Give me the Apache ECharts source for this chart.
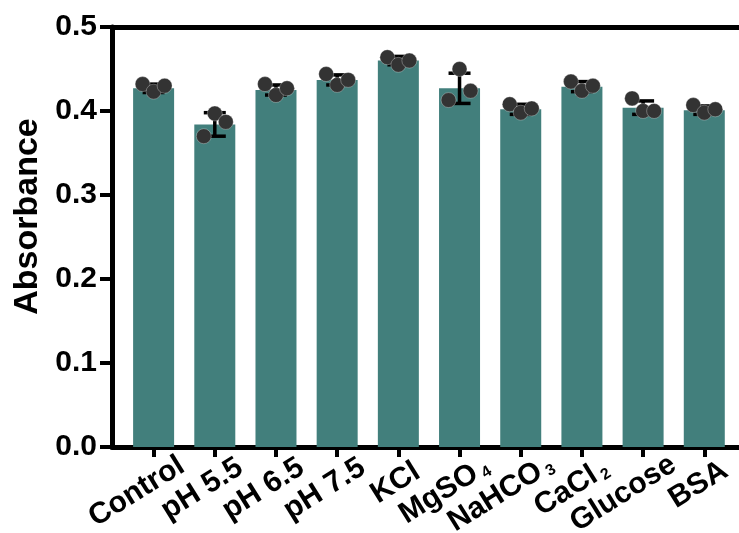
<!DOCTYPE html>
<html>
<head>
<meta charset="utf-8">
<script src="https://cdn.jsdelivr.net/npm/echarts@6/dist/echarts.min.js"></script>
<style>
  html, body { margin: 0; padding: 0; background: #fff; }
  #chart { width: 739px; height: 533px; }
</style>
</head>
<body>
<div id="chart"></div>
<script>
// Treatment groups (trailing digit of a formula is drawn as a subscript)
const categories = ['Control', 'pH 5.5', 'pH 6.5', 'pH 7.5', 'KCl', 'MgSO4', 'NaHCO3', 'CaCl2', 'Glucose', 'BSA'];

// Mean absorbance and standard deviation per group
const meanAbs = [0.427, 0.384, 0.425, 0.437, 0.460, 0.427, 0.402, 0.429, 0.404, 0.401];
const sdAbs   = [0.005, 0.014, 0.006, 0.006, 0.005, 0.018, 0.006, 0.006, 0.008, 0.005];

// Individual replicates (left, middle, right dot of each group)
const rep1 = [0.432, 0.370, 0.432, 0.444, 0.464, 0.413, 0.408, 0.435, 0.415, 0.407];
const rep2 = [0.423, 0.397, 0.419, 0.431, 0.455, 0.450, 0.398, 0.424, 0.400, 0.398];
const rep3 = [0.430, 0.387, 0.427, 0.437, 0.460, 0.424, 0.403, 0.430, 0.400, 0.402];

// Y axis ticks
const yTicks = [0, 0.1, 0.2, 0.3, 0.4, 0.5];

const FONT = '"Liberation Sans", Arial, Helvetica, sans-serif';
const BAR_COLOR = '#427f7c';
const DOT_COLOR = '#333333';
const LABEL_SIZE = 30;
const SUB_SIZE = 16;
const SUB_GAP = 4;
const labelShift = 0.5;    // anchor of the rotated category labels, right of the tick
const labelReach = 24;     // longest labels hang this far past their anchor point

const idx = categories.map((c, i) => i);

// Split a formula like "MgSO4" into base text and subscript digit
function splitFormula(name) {
  const m = name.match(/^(.*[A-Za-z])(\d)$/);
  return m ? [m[1], m[2]] : [name, ''];
}

// Measure label widths so each label is pinned 30% in from its right end
const measureCtx = document.createElement('canvas').getContext('2d');
function textWidth(str, size) {
  measureCtx.font = 'bold ' + size + 'px ' + FONT;
  return measureCtx.measureText(str).width;
}
const richStyles = {
  t: { fontFamily: FONT, fontWeight: 700, fontSize: LABEL_SIZE, color: '#000' },
  s: { fontFamily: FONT, fontWeight: 700, fontSize: SUB_SIZE, color: '#000', verticalAlign: 'bottom', lineHeight: 16, padding: [0, 0, 0, SUB_GAP] }
};
categories.forEach((name, i) => {
  const [base, sub] = splitFormula(name);
  const w = textWidth(base, LABEL_SIZE) + (sub ? SUB_GAP + textWidth(sub, SUB_SIZE) : 0);
  richStyles['g' + i] = { fontSize: LABEL_SIZE, width: Math.max(0, labelReach - 0.2 * w) };
});

function catLabel(value) {
  const i = Math.round(value - labelShift);
  const name = categories[i];
  if (name === undefined) return '';
  const [base, sub] = splitFormula(name);
  return '{t|' + base + '}' + (sub ? '{s|' + sub + '}' : '') + '{g' + i + '| }';
}

const chart = echarts.init(document.getElementById('chart'), null, { renderer: 'canvas' });

const dotSeries = [rep1, rep2, rep3].map((rep, k) => ({
  type: 'scatter',
  xAxisIndex: 0,
  data: rep.map((v, i) => [i, v]),
  symbol: 'circle',
  symbolSize: 15,
  symbolOffset: [[-11, 0], [0, 0], [11, 0]][k],
  itemStyle: { color: DOT_COLOR, borderColor: 'rgba(255,255,255,0.3)', borderWidth: 1, opacity: 1 },
  z: 5,
  silent: true
}));

chart.setOption({
  animation: false,
  backgroundColor: '#ffffff',
  grid: { left: 112, right: -2, top: 27, bottom: 86, containLabel: false, outerBoundsMode: 'none' },
  xAxis: [{
    type: 'value',
    min: -0.68,
    max: 9.6,
    position: 'bottom',
    splitLine: { show: false },
    axisLine: { show: true, onZero: false, lineStyle: { color: '#000', width: 5 } },
    axisTick: { show: true, customValues: idx, length: 10, lineStyle: { color: '#000', width: 4 } },
    axisLabel: {
      show: true,
      customValues: idx.map(i => i + labelShift),
      rotate: 32,
      margin: 15,
      formatter: catLabel,
      rich: richStyles
    }
  }, {
    type: 'value',
    min: -0.68,
    max: 9.6,
    position: 'top',
    splitLine: { show: false },
    axisLine: { show: true, onZero: false, lineStyle: { color: '#000', width: 5 } },
    axisTick: { show: false },
    axisLabel: { show: false }
  }],
  yAxis: {
    type: 'value',
    min: yTicks[0],
    max: yTicks[yTicks.length - 1],
    interval: 0.1,
    name: 'Absorbance',
    nameLocation: 'middle',
    nameGap: 67,
    nameTextStyle: { fontFamily: FONT, fontWeight: 700, fontSize: 34, color: '#000', padding: [0, 0, 0, 41] },
    splitLine: { show: false },
    axisLine: { show: true, onZero: false, lineStyle: { color: '#000', width: 5 } },
    axisTick: { show: true, length: 12, lineStyle: { color: '#000', width: 4 } },
    axisLabel: {
      margin: 15,
      fontFamily: FONT,
      fontWeight: 700,
      fontSize: 30,
      color: '#000',
      formatter: v => v.toFixed(1)
    }
  },
  series: [{
    type: 'bar',
    xAxisIndex: 0,
    data: meanAbs.map((v, i) => [i, v]),
    barWidth: 41,
    itemStyle: { color: BAR_COLOR },
    z: 2,
    silent: true
  }, {
    type: 'custom',
    xAxisIndex: 0,
    data: meanAbs.map((v, i) => [i, v, sdAbs[i]]),
    renderItem: function (params, api) {
      const x = api.value(0), m = api.value(1), sd = api.value(2);
      const hi = api.coord([x, m + sd]);
      const lo = api.coord([x, m - sd]);
      const half = 11;
      const st = { stroke: '#000', lineWidth: 3.5 };
      return {
        type: 'group',
        children: [
          { type: 'line', shape: { x1: hi[0], y1: hi[1], x2: lo[0], y2: lo[1] }, style: st },
          { type: 'line', shape: { x1: hi[0] - half, y1: hi[1], x2: hi[0] + half, y2: hi[1] }, style: st },
          { type: 'line', shape: { x1: lo[0] - half, y1: lo[1], x2: lo[0] + half, y2: lo[1] }, style: st }
        ]
      };
    },
    z: 4,
    silent: true
  }].concat(dotSeries)
});
</script>
</body>
</html>
